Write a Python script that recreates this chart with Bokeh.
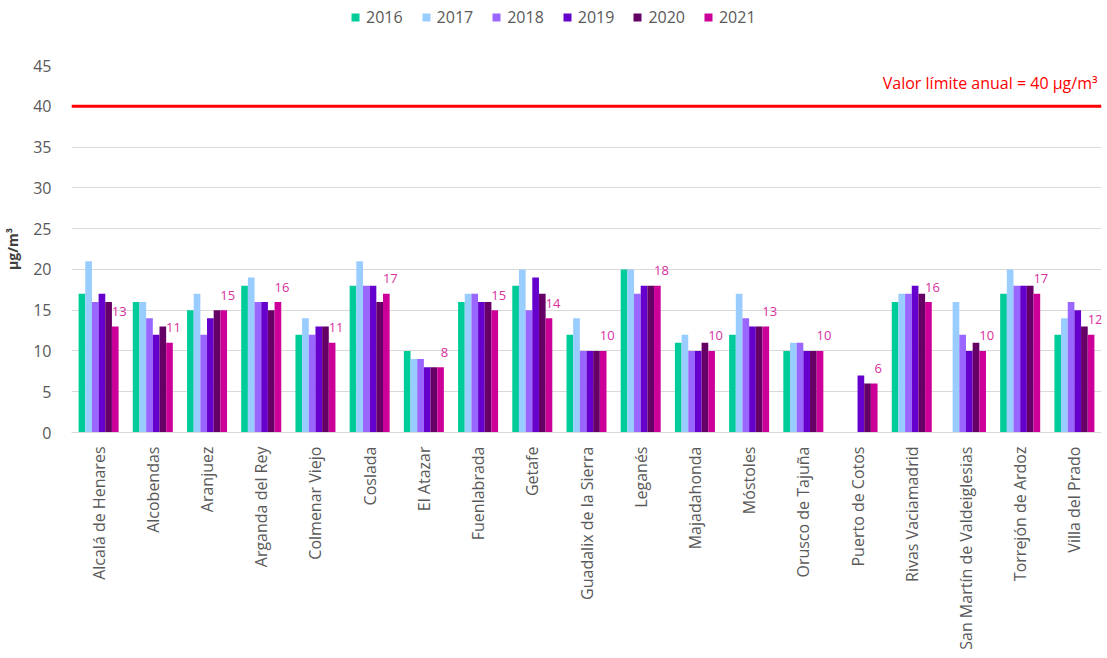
import math
from bokeh.plotting import figure
from bokeh.layouts import column
from bokeh.models import ColumnDataSource, Span, Label, FixedTicker, Range1d, Legend
from bokeh.transform import dodge
from bokeh.core.properties import value
from bokeh.embed import file_html
from bokeh.resources import INLINE

NaN = float("nan")

stations = ["Alcalá de Henares", "Alcobendas", "Aranjuez", "Arganda del Rey",
            "Colmenar Viejo", "Coslada", "El Atazar", "Fuenlabrada", "Getafe",
            "Guadalix de la Sierra", "Leganés", "Majadahonda", "Móstoles",
            "Orusco de Tajuña", "Puerto de Cotos", "Rivas Vaciamadrid",
            "San Martín de Valdeiglesias", "Torrejón de Ardoz", "Villa del Prado"]
years = ["2016", "2017", "2018", "2019", "2020", "2021"]

v2016 = [17, 16, 15, 18, 12, 18, 10, 16, 18, 12, 20, 11, 12, 10, NaN, 16, NaN, 17, 12]
v2017 = [21, 16, 17, 19, 14, 21, 9, 17, 20, 14, 20, 12, 17, 11, NaN, 17, 16, 20, 14]
v2018 = [16, 14, 12, 16, 12, 18, 9, 17, 15, 10, 17, 10, 14, 11, NaN, 17, 12, 18, 16]
v2019 = [17, 12, 14, 16, 13, 18, 8, 16, 19, 10, 18, 10, 13, 10, 7, 18, 10, 18, 15]
v2020 = [16, 13, 15, 15, 13, 16, 8, 16, 17, 10, 18, 11, 13, 10, 6, 17, 11, 18, 13]
v2021 = [13, 11, 15, 16, 11, 17, 8, 15, 14, 10, 18, 10, 13, 10, 6, 16, 10, 17, 12]

limit_value = 40
y_ticks = [0, 5, 10, 15, 20, 25, 30, 35, 40, 45]

colors = ["#00CC99", "#99CCFF", "#9966FF", "#6600CC", "#660066", "#CC0099"]

src = ColumnDataSource(data={
    "station": stations,
    "2016": v2016, "2017": v2017, "2018": v2018,
    "2019": v2019, "2020": v2020, "2021": v2021,
    "lbl": [str(int(v)) for v in v2021],
})

FONT = "Open Sans"
GREY = "#595959"
w = 0.123

# ---- legend strip (same renderers, bars fall outside its view) ----
lp = figure(x_range=stations, y_range=Range1d(100, 101), width=1107, height=40,
            output_backend="svg", toolbar_location=None, title=None,
            min_border_left=0, min_border_right=0, min_border_top=0,
            min_border_bottom=0, outline_line_color=None)
lp.axis.visible = False
lp.grid.visible = False
items = []
for i, yr in enumerate(years):
    r = lp.vbar(x=dodge("station", (i - 2.5) * w, range=lp.x_range), top=yr, width=w,
                source=src, fill_color=colors[i], line_color=None)
    items.append((yr, [r]))
lg = Legend(items=items, orientation="horizontal", location=(279, 12),
            border_line_color=None, background_fill_alpha=0, padding=0, margin=0,
            spacing=18, glyph_width=10, glyph_height=10, label_standoff=6,
            label_text_font_size="16px", label_text_color=GREY,
            label_text_font=FONT)
lp.add_layout(lg, "center")

# ---- main chart ----
p = figure(x_range=stations, y_range=Range1d(0, 45), width=1107, height=618,
           output_backend="svg", toolbar_location=None, title=None,
           min_border_left=70, min_border_right=6, min_border_top=25,
           min_border_bottom=226, outline_line_color=None)

for i, yr in enumerate(years):
    p.vbar(x=dodge("station", (i - 2.5) * w, range=p.x_range), top=yr, width=w,
           source=src, fill_color=colors[i], line_color=None)

p.text(x=dodge("station", 2.5 * w, range=p.x_range), y="2021", text="lbl",
       source=src, text_align="center", text_baseline="alphabetic",
       x_offset=4, y_offset=-15,
       text_font_size="13px", text_color="#D92FA0", text_font=value(FONT))

p.add_layout(Span(location=limit_value, dimension="width", line_color="#FF0000",
                  line_width=3))
p.add_layout(Label(x=len(stations), y=limit_value, x_offset=-4, y_offset=23,
                   text="Valor límite anual = 40 µg/m³", text_align="right",
                   text_baseline="alphabetic", text_color="#FF0000",
                   text_font_size="16px", text_font=FONT))

p.xgrid.grid_line_color = None
p.ygrid.grid_line_color = "#D9D9D9"

p.xaxis.axis_line_color = "#D9D9D9"
p.xaxis.major_tick_line_color = None
p.xaxis.minor_tick_line_color = None
p.xaxis.major_label_orientation = math.pi / 2
p.xaxis.major_label_text_font_size = "16px"
p.xaxis.major_label_text_color = GREY
p.xaxis.major_label_text_font = FONT
p.xaxis.major_label_standoff = 8

p.yaxis.ticker = FixedTicker(ticks=y_ticks)
p.yaxis.axis_line_color = None
p.yaxis.major_tick_line_color = None
p.yaxis.minor_tick_line_color = None
p.yaxis.major_label_text_font_size = "16px"
p.yaxis.major_label_text_color = GREY
p.yaxis.major_label_text_font = FONT
p.yaxis.major_label_standoff = 14
p.yaxis.axis_label = "µg/m³"
p.yaxis.axis_label_text_font_style = "bold"
p.yaxis.axis_label_text_font_size = "14px"
p.yaxis.axis_label_text_color = "#404040"
p.yaxis.axis_label_text_font = FONT
p.yaxis.axis_label_standoff = 8

open("out.html", "w").write(file_html(column(lp, p, spacing=0), INLINE))
